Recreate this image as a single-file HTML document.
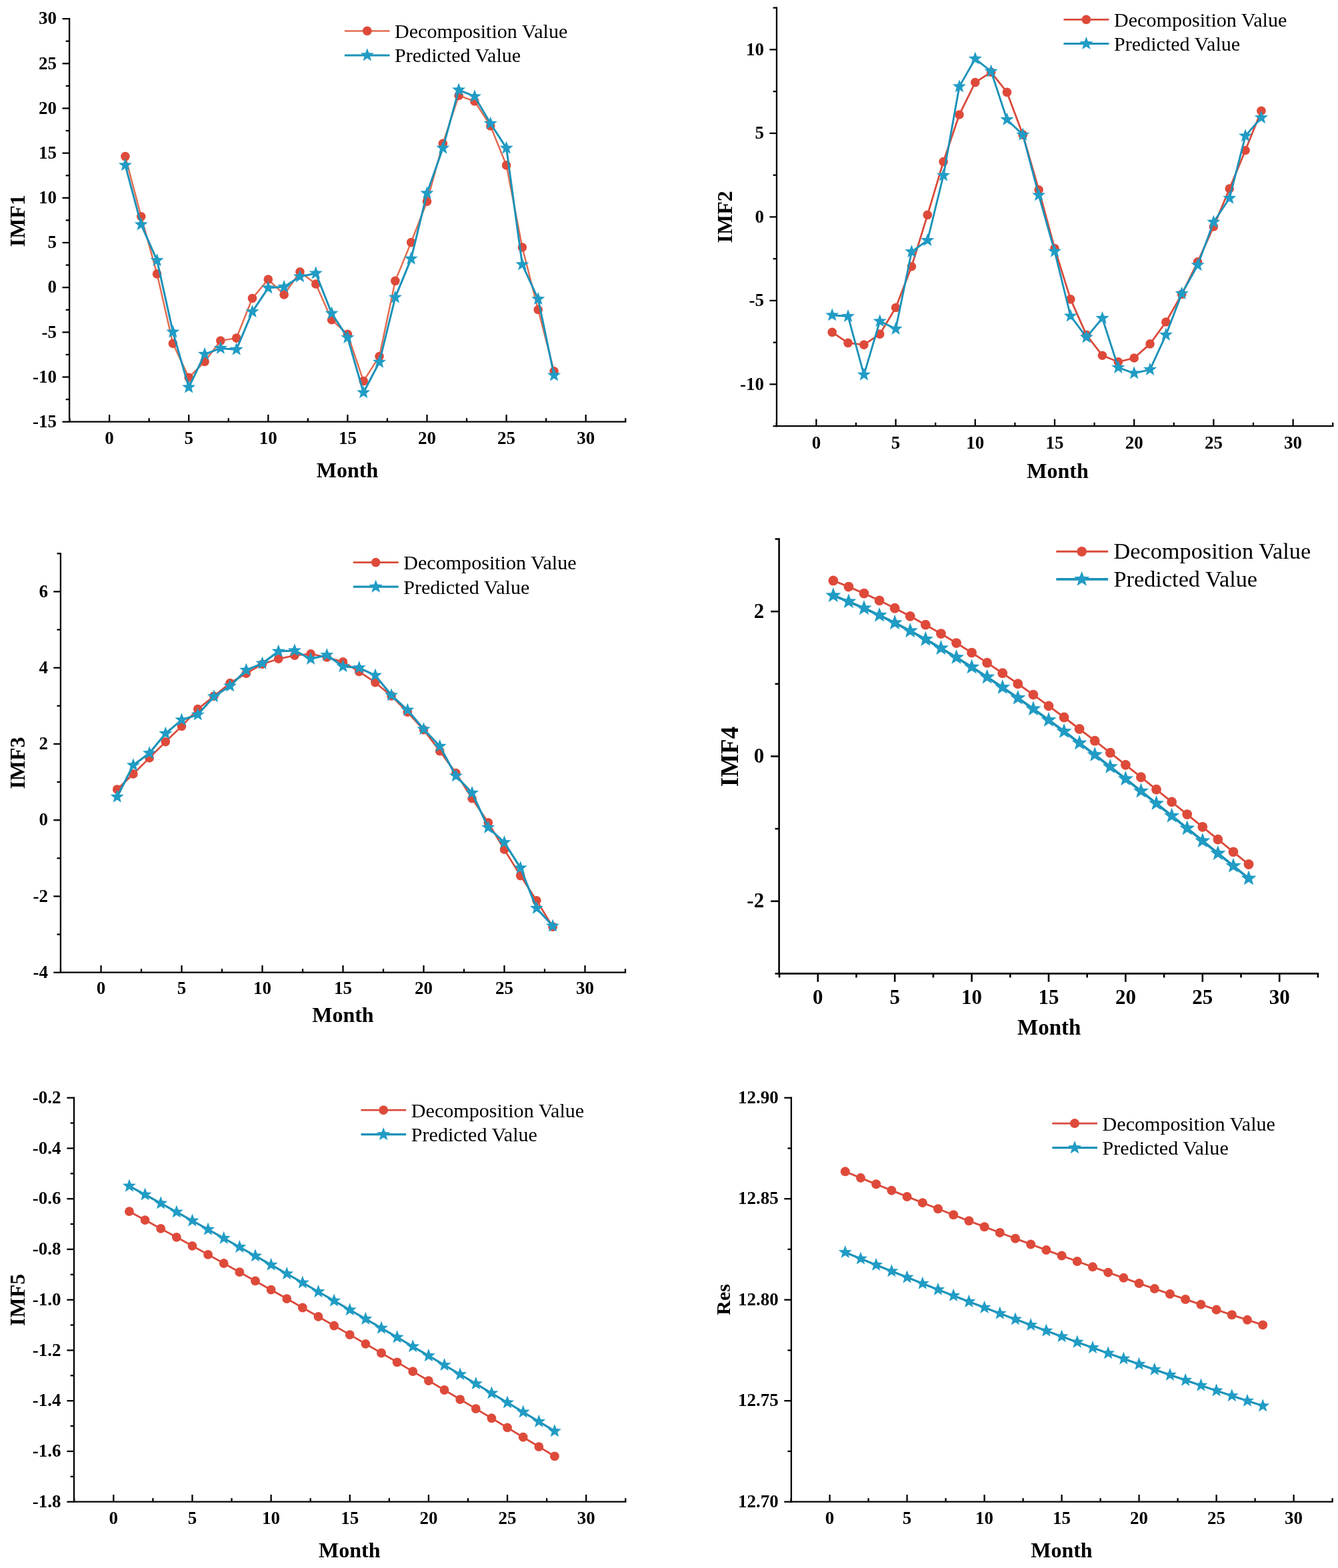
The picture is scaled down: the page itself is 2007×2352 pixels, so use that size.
<!DOCTYPE html>
<html><head><meta charset="utf-8"><title>IMF decomposition vs prediction</title>
<style>html,body{margin:0;padding:0;background:#fff;}svg{display:block;}</style></head>
<body><svg width="2007" height="2352" viewBox="0 0 2007 2352">
<rect width="100%" height="100%" fill="#fff"/>
<g stroke="#000" stroke-width="2.3" stroke-linecap="butt"><line x1="104.10" y1="26.98" x2="104.10" y2="633.75"/><line x1="102.95" y1="632.60" x2="939.40" y2="632.60"/><line x1="93.50" y1="632.70" x2="104.10" y2="632.70"/><line x1="93.50" y1="565.53" x2="104.10" y2="565.53"/><line x1="93.50" y1="498.35" x2="104.10" y2="498.35"/><line x1="93.50" y1="431.18" x2="104.10" y2="431.18"/><line x1="93.50" y1="364.00" x2="104.10" y2="364.00"/><line x1="93.50" y1="296.83" x2="104.10" y2="296.83"/><line x1="93.50" y1="229.65" x2="104.10" y2="229.65"/><line x1="93.50" y1="162.48" x2="104.10" y2="162.48"/><line x1="93.50" y1="95.30" x2="104.10" y2="95.30"/><line x1="93.50" y1="28.13" x2="104.10" y2="28.13"/><line x1="98.70" y1="599.11" x2="104.10" y2="599.11"/><line x1="98.70" y1="531.94" x2="104.10" y2="531.94"/><line x1="98.70" y1="464.76" x2="104.10" y2="464.76"/><line x1="98.70" y1="397.59" x2="104.10" y2="397.59"/><line x1="98.70" y1="330.41" x2="104.10" y2="330.41"/><line x1="98.70" y1="263.24" x2="104.10" y2="263.24"/><line x1="98.70" y1="196.06" x2="104.10" y2="196.06"/><line x1="98.70" y1="128.89" x2="104.10" y2="128.89"/><line x1="98.70" y1="61.71" x2="104.10" y2="61.71"/><line x1="164.10" y1="632.60" x2="164.10" y2="622.00"/><line x1="283.20" y1="632.60" x2="283.20" y2="622.00"/><line x1="402.30" y1="632.60" x2="402.30" y2="622.00"/><line x1="521.40" y1="632.60" x2="521.40" y2="622.00"/><line x1="640.50" y1="632.60" x2="640.50" y2="622.00"/><line x1="759.60" y1="632.60" x2="759.60" y2="622.00"/><line x1="878.70" y1="632.60" x2="878.70" y2="622.00"/><line x1="104.55" y1="632.60" x2="104.55" y2="627.20"/><line x1="223.65" y1="632.60" x2="223.65" y2="627.20"/><line x1="342.75" y1="632.60" x2="342.75" y2="627.20"/><line x1="461.85" y1="632.60" x2="461.85" y2="627.20"/><line x1="580.95" y1="632.60" x2="580.95" y2="627.20"/><line x1="700.05" y1="632.60" x2="700.05" y2="627.20"/><line x1="819.15" y1="632.60" x2="819.15" y2="627.20"/><line x1="938.25" y1="632.60" x2="938.25" y2="627.20"/></g>
<g font-family="'Liberation Serif', 'Times New Roman', serif" font-weight="bold" font-size="27" fill="#000"><text x="85.00" y="640.94" text-anchor="end">-15</text><text x="85.00" y="573.76" text-anchor="end">-10</text><text x="85.00" y="506.59" text-anchor="end">-5</text><text x="85.00" y="439.41" text-anchor="end">0</text><text x="85.00" y="372.24" text-anchor="end">5</text><text x="85.00" y="305.06" text-anchor="end">10</text><text x="85.00" y="237.89" text-anchor="end">15</text><text x="85.00" y="170.71" text-anchor="end">20</text><text x="85.00" y="103.54" text-anchor="end">25</text><text x="85.00" y="36.36" text-anchor="end">30</text><text x="164.10" y="665.50" text-anchor="middle">0</text><text x="283.20" y="665.50" text-anchor="middle">5</text><text x="402.30" y="665.50" text-anchor="middle">10</text><text x="521.40" y="665.50" text-anchor="middle">15</text><text x="640.50" y="665.50" text-anchor="middle">20</text><text x="759.60" y="665.50" text-anchor="middle">25</text><text x="878.70" y="665.50" text-anchor="middle">30</text></g>
<text x="521.00" y="715.70" text-anchor="middle" font-family="'Liberation Serif', 'Times New Roman', serif" font-weight="bold" font-size="32">Month</text>
<text transform="translate(37.10 331.20) rotate(-90)" x="0" y="0" text-anchor="middle" font-family="'Liberation Serif', 'Times New Roman', serif" font-weight="bold" font-size="32">IMF1</text>
<polyline fill="none" stroke="#e36c50" stroke-width="2.5" stroke-linejoin="round" points="187.92,234.62 211.74,324.77 235.56,410.89 259.38,515.28 283.20,566.20 307.02,542.55 330.84,511.11 354.66,507.08 378.48,447.43 402.30,419.08 426.12,441.92 449.94,407.80 473.76,426.07 497.58,479.81 521.40,501.31 545.22,571.57 569.04,534.62 592.86,421.37 616.68,363.60 640.50,302.20 664.32,215.41 688.14,143.40 711.96,152.00 735.78,188.94 759.60,247.92 783.42,370.99 807.24,464.49 831.06,556.79"/>
<circle cx="187.92" cy="234.62" r="6.80" fill="#de4a3a"/><circle cx="211.74" cy="324.77" r="6.80" fill="#de4a3a"/><circle cx="235.56" cy="410.89" r="6.80" fill="#de4a3a"/><circle cx="259.38" cy="515.28" r="6.80" fill="#de4a3a"/><circle cx="283.20" cy="566.20" r="6.80" fill="#de4a3a"/><circle cx="307.02" cy="542.55" r="6.80" fill="#de4a3a"/><circle cx="330.84" cy="511.11" r="6.80" fill="#de4a3a"/><circle cx="354.66" cy="507.08" r="6.80" fill="#de4a3a"/><circle cx="378.48" cy="447.43" r="6.80" fill="#de4a3a"/><circle cx="402.30" cy="419.08" r="6.80" fill="#de4a3a"/><circle cx="426.12" cy="441.92" r="6.80" fill="#de4a3a"/><circle cx="449.94" cy="407.80" r="6.80" fill="#de4a3a"/><circle cx="473.76" cy="426.07" r="6.80" fill="#de4a3a"/><circle cx="497.58" cy="479.81" r="6.80" fill="#de4a3a"/><circle cx="521.40" cy="501.31" r="6.80" fill="#de4a3a"/><circle cx="545.22" cy="571.57" r="6.80" fill="#de4a3a"/><circle cx="569.04" cy="534.62" r="6.80" fill="#de4a3a"/><circle cx="592.86" cy="421.37" r="6.80" fill="#de4a3a"/><circle cx="616.68" cy="363.60" r="6.80" fill="#de4a3a"/><circle cx="640.50" cy="302.20" r="6.80" fill="#de4a3a"/><circle cx="664.32" cy="215.41" r="6.80" fill="#de4a3a"/><circle cx="688.14" cy="143.40" r="6.80" fill="#de4a3a"/><circle cx="711.96" cy="152.00" r="6.80" fill="#de4a3a"/><circle cx="735.78" cy="188.94" r="6.80" fill="#de4a3a"/><circle cx="759.60" cy="247.92" r="6.80" fill="#de4a3a"/><circle cx="783.42" cy="370.99" r="6.80" fill="#de4a3a"/><circle cx="807.24" cy="464.49" r="6.80" fill="#de4a3a"/><circle cx="831.06" cy="556.79" r="6.80" fill="#de4a3a"/>
<polyline fill="none" stroke="#1c92b8" stroke-width="3.0" stroke-linejoin="round" points="187.92,247.79 211.74,336.86 235.56,390.60 259.38,497.95 283.20,580.98 307.02,531.40 330.84,522.40 354.66,524.28 378.48,467.58 402.30,431.85 426.12,430.37 449.94,414.92 473.76,409.95 497.58,470.14 521.40,506.41 545.22,588.77 569.04,543.22 592.86,446.09 616.68,388.18 640.50,289.84 664.32,222.13 688.14,134.80 711.96,144.74 735.78,185.31 759.60,222.13 783.42,396.78 807.24,448.51 831.06,562.97"/>
<polygon points="187.92,237.19 190.54,244.19 198.00,244.51 192.15,249.16 194.15,256.36 187.92,252.24 181.69,256.36 183.69,249.16 177.84,244.51 185.30,244.19" fill="#209cc5"/><polygon points="211.74,326.26 214.36,333.26 221.82,333.59 215.97,338.24 217.97,345.44 211.74,341.31 205.51,345.44 207.51,338.24 201.66,333.59 209.12,333.26" fill="#209cc5"/><polygon points="235.56,380.00 238.18,387.00 245.64,387.33 239.79,391.98 241.79,399.18 235.56,395.05 229.33,399.18 231.33,391.98 225.48,387.33 232.94,387.00" fill="#209cc5"/><polygon points="259.38,487.35 262.00,494.35 269.46,494.67 263.61,499.32 265.61,506.52 259.38,502.40 253.15,506.52 255.15,499.32 249.30,494.67 256.76,494.35" fill="#209cc5"/><polygon points="283.20,570.38 285.82,577.37 293.28,577.70 287.43,582.35 289.43,589.55 283.20,585.43 276.97,589.55 278.97,582.35 273.12,577.70 280.58,577.37" fill="#209cc5"/><polygon points="307.02,520.80 309.64,527.80 317.10,528.12 311.25,532.78 313.25,539.98 307.02,535.85 300.79,539.98 302.79,532.78 296.94,528.12 304.40,527.80" fill="#209cc5"/><polygon points="330.84,511.80 333.46,518.80 340.92,519.12 335.07,523.77 337.07,530.97 330.84,526.85 324.61,530.97 326.61,523.77 320.76,519.12 328.22,518.80" fill="#209cc5"/><polygon points="354.66,513.68 357.28,520.68 364.74,521.00 358.89,525.66 360.89,532.86 354.66,528.73 348.43,532.86 350.43,525.66 344.58,521.00 352.04,520.68" fill="#209cc5"/><polygon points="378.48,456.98 381.10,463.98 388.56,464.31 382.71,468.96 384.71,476.16 378.48,472.04 372.25,476.16 374.25,468.96 368.40,464.31 375.86,463.98" fill="#209cc5"/><polygon points="402.30,421.25 404.92,428.25 412.38,428.57 406.53,433.22 408.53,440.42 402.30,436.30 396.07,440.42 398.07,433.22 392.22,428.57 399.68,428.25" fill="#209cc5"/><polygon points="426.12,419.77 428.74,426.77 436.20,427.09 430.35,431.74 432.35,438.94 426.12,434.82 419.89,438.94 421.89,431.74 416.04,427.09 423.50,426.77" fill="#209cc5"/><polygon points="449.94,404.32 452.56,411.32 460.02,411.64 454.17,416.29 456.17,423.49 449.94,419.37 443.71,423.49 445.71,416.29 439.86,411.64 447.32,411.32" fill="#209cc5"/><polygon points="473.76,399.35 476.38,406.35 483.84,406.67 477.99,411.32 479.99,418.52 473.76,414.40 467.53,418.52 469.53,411.32 463.68,406.67 471.14,406.35" fill="#209cc5"/><polygon points="497.58,459.54 500.20,466.53 507.66,466.86 501.81,471.51 503.81,478.71 497.58,474.59 491.35,478.71 493.35,471.51 487.50,466.86 494.96,466.53" fill="#209cc5"/><polygon points="521.40,495.81 524.02,502.81 531.48,503.14 525.63,507.79 527.63,514.99 521.40,510.86 515.17,514.99 517.17,507.79 511.32,503.14 518.78,502.81" fill="#209cc5"/><polygon points="545.22,578.17 547.84,585.17 555.30,585.49 549.45,590.14 551.45,597.34 545.22,593.22 538.99,597.34 540.99,590.14 535.14,585.49 542.60,585.17" fill="#209cc5"/><polygon points="569.04,532.62 571.66,539.62 579.12,539.95 573.27,544.60 575.27,551.80 569.04,547.67 562.81,551.80 564.81,544.60 558.96,539.95 566.42,539.62" fill="#209cc5"/><polygon points="592.86,435.49 595.48,442.49 602.94,442.81 597.09,447.46 599.09,454.66 592.86,450.54 586.63,454.66 588.63,447.46 582.78,442.81 590.24,442.49" fill="#209cc5"/><polygon points="616.68,377.58 619.30,384.58 626.76,384.91 620.91,389.56 622.91,396.76 616.68,392.64 610.45,396.76 612.45,389.56 606.60,384.91 614.06,384.58" fill="#209cc5"/><polygon points="640.50,279.24 643.12,286.24 650.58,286.56 644.73,291.21 646.73,298.41 640.50,294.29 634.27,298.41 636.27,291.21 630.42,286.56 637.88,286.24" fill="#209cc5"/><polygon points="664.32,211.53 666.94,218.52 674.40,218.85 668.55,223.50 670.55,230.70 664.32,226.58 658.09,230.70 660.09,223.50 654.24,218.85 661.70,218.52" fill="#209cc5"/><polygon points="688.14,124.20 690.76,131.20 698.22,131.52 692.37,136.17 694.37,143.37 688.14,139.25 681.91,143.37 683.91,136.17 678.06,131.52 685.52,131.20" fill="#209cc5"/><polygon points="711.96,134.14 714.58,141.14 722.04,141.47 716.19,146.12 718.19,153.32 711.96,149.19 705.73,153.32 707.73,146.12 701.88,141.47 709.34,141.14" fill="#209cc5"/><polygon points="735.78,174.71 738.40,181.71 745.86,182.04 740.01,186.69 742.01,193.89 735.78,189.77 729.55,193.89 731.55,186.69 725.70,182.04 733.16,181.71" fill="#209cc5"/><polygon points="759.60,211.53 762.22,218.52 769.68,218.85 763.83,223.50 765.83,230.70 759.60,226.58 753.37,230.70 755.37,223.50 749.52,218.85 756.98,218.52" fill="#209cc5"/><polygon points="783.42,386.18 786.04,393.18 793.50,393.51 787.65,398.16 789.65,405.36 783.42,401.23 777.19,405.36 779.19,398.16 773.34,393.51 780.80,393.18" fill="#209cc5"/><polygon points="807.24,437.91 809.86,444.90 817.32,445.23 811.47,449.88 813.47,457.08 807.24,452.96 801.01,457.08 803.01,449.88 797.16,445.23 804.62,444.90" fill="#209cc5"/><polygon points="831.06,552.37 833.68,559.37 841.14,559.70 835.29,564.35 837.29,571.55 831.06,567.42 824.83,571.55 826.83,564.35 820.98,559.70 828.44,559.37" fill="#209cc5"/>
<line x1="516.90" y1="46.40" x2="584.60" y2="46.40" stroke="#e36c50" stroke-width="2.5"/><circle cx="550.80" cy="46.40" r="6.80" fill="#de4a3a"/><line x1="516.90" y1="82.90" x2="584.60" y2="82.90" stroke="#1c92b8" stroke-width="3.0"/><polygon points="550.80,72.30 553.42,79.30 560.88,79.62 555.03,84.28 557.03,91.48 550.80,87.35 544.57,91.48 546.57,84.28 540.72,79.62 548.18,79.30" fill="#209cc5"/><text x="592.00" y="56.80" font-family="'Liberation Serif', 'Times New Roman', serif" font-size="30.1">Decomposition Value</text><text x="592.00" y="93.30" font-family="'Liberation Serif', 'Times New Roman', serif" font-size="30.1">Predicted Value</text>
<g stroke="#000" stroke-width="2.3" stroke-linecap="butt"><line x1="1165.00" y1="10.50" x2="1165.00" y2="640.35"/><line x1="1163.85" y1="639.20" x2="2000.35" y2="639.20"/><line x1="1154.40" y1="576.40" x2="1165.00" y2="576.40"/><line x1="1154.40" y1="450.90" x2="1165.00" y2="450.90"/><line x1="1154.40" y1="325.40" x2="1165.00" y2="325.40"/><line x1="1154.40" y1="199.90" x2="1165.00" y2="199.90"/><line x1="1154.40" y1="74.40" x2="1165.00" y2="74.40"/><line x1="1159.60" y1="639.15" x2="1165.00" y2="639.15"/><line x1="1159.60" y1="513.65" x2="1165.00" y2="513.65"/><line x1="1159.60" y1="388.15" x2="1165.00" y2="388.15"/><line x1="1159.60" y1="262.65" x2="1165.00" y2="262.65"/><line x1="1159.60" y1="137.15" x2="1165.00" y2="137.15"/><line x1="1159.60" y1="11.65" x2="1165.00" y2="11.65"/><line x1="1224.40" y1="639.20" x2="1224.40" y2="628.60"/><line x1="1343.60" y1="639.20" x2="1343.60" y2="628.60"/><line x1="1462.80" y1="639.20" x2="1462.80" y2="628.60"/><line x1="1582.00" y1="639.20" x2="1582.00" y2="628.60"/><line x1="1701.20" y1="639.20" x2="1701.20" y2="628.60"/><line x1="1820.40" y1="639.20" x2="1820.40" y2="628.60"/><line x1="1939.60" y1="639.20" x2="1939.60" y2="628.60"/><line x1="1164.80" y1="639.20" x2="1164.80" y2="633.80"/><line x1="1284.00" y1="639.20" x2="1284.00" y2="633.80"/><line x1="1403.20" y1="639.20" x2="1403.20" y2="633.80"/><line x1="1522.40" y1="639.20" x2="1522.40" y2="633.80"/><line x1="1641.60" y1="639.20" x2="1641.60" y2="633.80"/><line x1="1760.80" y1="639.20" x2="1760.80" y2="633.80"/><line x1="1880.00" y1="639.20" x2="1880.00" y2="633.80"/><line x1="1999.20" y1="639.20" x2="1999.20" y2="633.80"/></g>
<g font-family="'Liberation Serif', 'Times New Roman', serif" font-weight="bold" font-size="27" fill="#000"><text x="1146.10" y="584.63" text-anchor="end">-10</text><text x="1146.10" y="459.13" text-anchor="end">-5</text><text x="1146.10" y="333.63" text-anchor="end">0</text><text x="1146.10" y="208.13" text-anchor="end">5</text><text x="1146.10" y="82.63" text-anchor="end">10</text><text x="1224.40" y="672.50" text-anchor="middle">0</text><text x="1343.60" y="672.50" text-anchor="middle">5</text><text x="1462.80" y="672.50" text-anchor="middle">10</text><text x="1582.00" y="672.50" text-anchor="middle">15</text><text x="1701.20" y="672.50" text-anchor="middle">20</text><text x="1820.40" y="672.50" text-anchor="middle">25</text><text x="1939.60" y="672.50" text-anchor="middle">30</text></g>
<text x="1586.50" y="717.00" text-anchor="middle" font-family="'Liberation Serif', 'Times New Roman', serif" font-weight="bold" font-size="32">Month</text>
<text transform="translate(1097.90 325.30) rotate(-90)" x="0" y="0" text-anchor="middle" font-family="'Liberation Serif', 'Times New Roman', serif" font-weight="bold" font-size="32">IMF2</text>
<polyline fill="none" stroke="#da4a3b" stroke-width="2.8" stroke-linejoin="round" points="1248.24,498.34 1272.08,514.40 1295.92,517.16 1319.76,501.10 1343.60,461.44 1367.44,399.70 1391.28,322.39 1415.12,242.57 1438.96,172.04 1462.80,123.60 1486.64,108.28 1510.48,138.40 1534.32,202.16 1558.16,284.74 1582.00,372.59 1605.84,448.89 1629.68,502.36 1653.52,533.23 1677.36,542.77 1701.20,536.99 1725.04,515.91 1748.88,483.03 1772.72,441.36 1796.56,392.92 1820.40,339.96 1844.24,282.98 1868.08,225.50 1891.92,166.27"/>
<circle cx="1248.24" cy="498.34" r="6.80" fill="#de4a3a"/><circle cx="1272.08" cy="514.40" r="6.80" fill="#de4a3a"/><circle cx="1295.92" cy="517.16" r="6.80" fill="#de4a3a"/><circle cx="1319.76" cy="501.10" r="6.80" fill="#de4a3a"/><circle cx="1343.60" cy="461.44" r="6.80" fill="#de4a3a"/><circle cx="1367.44" cy="399.70" r="6.80" fill="#de4a3a"/><circle cx="1391.28" cy="322.39" r="6.80" fill="#de4a3a"/><circle cx="1415.12" cy="242.57" r="6.80" fill="#de4a3a"/><circle cx="1438.96" cy="172.04" r="6.80" fill="#de4a3a"/><circle cx="1462.80" cy="123.60" r="6.80" fill="#de4a3a"/><circle cx="1486.64" cy="108.28" r="6.80" fill="#de4a3a"/><circle cx="1510.48" cy="138.40" r="6.80" fill="#de4a3a"/><circle cx="1534.32" cy="202.16" r="6.80" fill="#de4a3a"/><circle cx="1558.16" cy="284.74" r="6.80" fill="#de4a3a"/><circle cx="1582.00" cy="372.59" r="6.80" fill="#de4a3a"/><circle cx="1605.84" cy="448.89" r="6.80" fill="#de4a3a"/><circle cx="1629.68" cy="502.36" r="6.80" fill="#de4a3a"/><circle cx="1653.52" cy="533.23" r="6.80" fill="#de4a3a"/><circle cx="1677.36" cy="542.77" r="6.80" fill="#de4a3a"/><circle cx="1701.20" cy="536.99" r="6.80" fill="#de4a3a"/><circle cx="1725.04" cy="515.91" r="6.80" fill="#de4a3a"/><circle cx="1748.88" cy="483.03" r="6.80" fill="#de4a3a"/><circle cx="1772.72" cy="441.36" r="6.80" fill="#de4a3a"/><circle cx="1796.56" cy="392.92" r="6.80" fill="#de4a3a"/><circle cx="1820.40" cy="339.96" r="6.80" fill="#de4a3a"/><circle cx="1844.24" cy="282.98" r="6.80" fill="#de4a3a"/><circle cx="1868.08" cy="225.50" r="6.80" fill="#de4a3a"/><circle cx="1891.92" cy="166.27" r="6.80" fill="#de4a3a"/>
<polyline fill="none" stroke="#1c92b8" stroke-width="2.9" stroke-linejoin="round" points="1248.24,472.74 1272.08,474.49 1295.92,562.09 1319.76,481.77 1343.60,493.32 1367.44,377.61 1391.28,360.54 1415.12,263.15 1438.96,129.87 1462.80,88.20 1486.64,107.03 1510.48,179.32 1534.32,202.16 1558.16,292.77 1582.00,377.11 1605.84,473.99 1629.68,505.87 1653.52,477.25 1677.36,551.30 1701.20,559.83 1725.04,554.31 1748.88,502.36 1772.72,440.36 1796.56,397.69 1820.40,333.18 1844.24,297.29 1868.08,203.92 1891.92,176.56"/>
<polygon points="1248.24,462.14 1250.86,469.14 1258.32,469.46 1252.47,474.11 1254.47,481.31 1248.24,477.19 1242.01,481.31 1244.01,474.11 1238.16,469.46 1245.62,469.14" fill="#209cc5"/><polygon points="1272.08,463.89 1274.70,470.89 1282.16,471.22 1276.31,475.87 1278.31,483.07 1272.08,478.95 1265.85,483.07 1267.85,475.87 1262.00,471.22 1269.46,470.89" fill="#209cc5"/><polygon points="1295.92,551.49 1298.54,558.49 1306.00,558.82 1300.15,563.47 1302.15,570.67 1295.92,566.54 1289.69,570.67 1291.69,563.47 1285.84,558.82 1293.30,558.49" fill="#209cc5"/><polygon points="1319.76,471.17 1322.38,478.17 1329.84,478.50 1323.99,483.15 1325.99,490.35 1319.76,486.23 1313.53,490.35 1315.53,483.15 1309.68,478.50 1317.14,478.17" fill="#209cc5"/><polygon points="1343.60,482.72 1346.22,489.72 1353.68,490.04 1347.83,494.69 1349.83,501.89 1343.60,497.77 1337.37,501.89 1339.37,494.69 1333.52,490.04 1340.98,489.72" fill="#209cc5"/><polygon points="1367.44,367.01 1370.06,374.01 1377.52,374.33 1371.67,378.98 1373.67,386.18 1367.44,382.06 1361.21,386.18 1363.21,378.98 1357.36,374.33 1364.82,374.01" fill="#209cc5"/><polygon points="1391.28,349.94 1393.90,356.94 1401.36,357.26 1395.51,361.92 1397.51,369.12 1391.28,364.99 1385.05,369.12 1387.05,361.92 1381.20,357.26 1388.66,356.94" fill="#209cc5"/><polygon points="1415.12,252.55 1417.74,259.55 1425.20,259.88 1419.35,264.53 1421.35,271.73 1415.12,267.60 1408.89,271.73 1410.89,264.53 1405.04,259.88 1412.50,259.55" fill="#209cc5"/><polygon points="1438.96,119.27 1441.58,126.27 1449.04,126.60 1443.19,131.25 1445.19,138.45 1438.96,134.32 1432.73,138.45 1434.73,131.25 1428.88,126.60 1436.34,126.27" fill="#209cc5"/><polygon points="1462.80,77.60 1465.42,84.60 1472.88,84.93 1467.03,89.58 1469.03,96.78 1462.80,92.66 1456.57,96.78 1458.57,89.58 1452.72,84.93 1460.18,84.60" fill="#209cc5"/><polygon points="1486.64,96.43 1489.26,103.43 1496.72,103.75 1490.87,108.41 1492.87,115.61 1486.64,111.48 1480.41,115.61 1482.41,108.41 1476.56,103.75 1484.02,103.43" fill="#209cc5"/><polygon points="1510.48,168.72 1513.10,175.72 1520.56,176.04 1514.71,180.69 1516.71,187.89 1510.48,183.77 1504.25,187.89 1506.25,180.69 1500.40,176.04 1507.86,175.72" fill="#209cc5"/><polygon points="1534.32,191.56 1536.94,198.56 1544.40,198.88 1538.55,203.53 1540.55,210.73 1534.32,206.61 1528.09,210.73 1530.09,203.53 1524.24,198.88 1531.70,198.56" fill="#209cc5"/><polygon points="1558.16,282.17 1560.78,289.17 1568.24,289.49 1562.39,294.15 1564.39,301.35 1558.16,297.22 1551.93,301.35 1553.93,294.15 1548.08,289.49 1555.54,289.17" fill="#209cc5"/><polygon points="1582.00,366.51 1584.62,373.50 1592.08,373.83 1586.23,378.48 1588.23,385.68 1582.00,381.56 1575.77,385.68 1577.77,378.48 1571.92,373.83 1579.38,373.50" fill="#209cc5"/><polygon points="1605.84,463.39 1608.46,470.39 1615.92,470.72 1610.07,475.37 1612.07,482.57 1605.84,478.44 1599.61,482.57 1601.61,475.37 1595.76,470.72 1603.22,470.39" fill="#209cc5"/><polygon points="1629.68,495.27 1632.30,502.27 1639.76,502.59 1633.91,507.24 1635.91,514.44 1629.68,510.32 1623.45,514.44 1625.45,507.24 1619.60,502.59 1627.06,502.27" fill="#209cc5"/><polygon points="1653.52,466.65 1656.14,473.65 1663.60,473.98 1657.75,478.63 1659.75,485.83 1653.52,481.71 1647.29,485.83 1649.29,478.63 1643.44,473.98 1650.90,473.65" fill="#209cc5"/><polygon points="1677.36,540.70 1679.98,547.70 1687.44,548.02 1681.59,552.68 1683.59,559.88 1677.36,555.75 1671.13,559.88 1673.13,552.68 1667.28,548.02 1674.74,547.70" fill="#209cc5"/><polygon points="1701.20,549.23 1703.82,556.23 1711.28,556.56 1705.43,561.21 1707.43,568.41 1701.20,564.29 1694.97,568.41 1696.97,561.21 1691.12,556.56 1698.58,556.23" fill="#209cc5"/><polygon points="1725.04,543.71 1727.66,550.71 1735.12,551.04 1729.27,555.69 1731.27,562.89 1725.04,558.76 1718.81,562.89 1720.81,555.69 1714.96,551.04 1722.42,550.71" fill="#209cc5"/><polygon points="1748.88,491.75 1751.50,498.75 1758.96,499.08 1753.11,503.73 1755.11,510.93 1748.88,506.81 1742.65,510.93 1744.65,503.73 1738.80,499.08 1746.26,498.75" fill="#209cc5"/><polygon points="1772.72,429.76 1775.34,436.76 1782.80,437.08 1776.95,441.73 1778.95,448.93 1772.72,444.81 1766.49,448.93 1768.49,441.73 1762.64,437.08 1770.10,436.76" fill="#209cc5"/><polygon points="1796.56,387.09 1799.18,394.09 1806.64,394.41 1800.79,399.06 1802.79,406.26 1796.56,402.14 1790.33,406.26 1792.33,399.06 1786.48,394.41 1793.94,394.09" fill="#209cc5"/><polygon points="1820.40,322.58 1823.02,329.58 1830.48,329.91 1824.63,334.56 1826.63,341.76 1820.40,337.63 1814.17,341.76 1816.17,334.56 1810.32,329.91 1817.78,329.58" fill="#209cc5"/><polygon points="1844.24,286.69 1846.86,293.69 1854.32,294.01 1848.47,298.66 1850.47,305.86 1844.24,301.74 1838.01,305.86 1840.01,298.66 1834.16,294.01 1841.62,293.69" fill="#209cc5"/><polygon points="1868.08,193.32 1870.70,200.31 1878.16,200.64 1872.31,205.29 1874.31,212.49 1868.08,208.37 1861.85,212.49 1863.85,205.29 1858.00,200.64 1865.46,200.31" fill="#209cc5"/><polygon points="1891.92,165.96 1894.54,172.96 1902.00,173.28 1896.15,177.93 1898.15,185.13 1891.92,181.01 1885.69,185.13 1887.69,177.93 1881.84,173.28 1889.30,172.96" fill="#209cc5"/>
<line x1="1595.50" y1="29.40" x2="1663.40" y2="29.40" stroke="#da4a3b" stroke-width="2.8"/><circle cx="1629.40" cy="29.40" r="6.80" fill="#de4a3a"/><line x1="1595.50" y1="65.50" x2="1663.40" y2="65.50" stroke="#1c92b8" stroke-width="2.9"/><polygon points="1629.40,54.90 1632.02,61.90 1639.48,62.22 1633.63,66.88 1635.63,74.08 1629.40,69.95 1623.17,74.08 1625.17,66.88 1619.32,62.22 1626.78,61.90" fill="#209cc5"/><text x="1671.00" y="39.60" font-family="'Liberation Serif', 'Times New Roman', serif" font-size="30.1">Decomposition Value</text><text x="1671.00" y="75.70" font-family="'Liberation Serif', 'Times New Roman', serif" font-size="30.1">Predicted Value</text>
<g stroke="#000" stroke-width="2.3" stroke-linecap="butt"><line x1="90.90" y1="829.14" x2="90.90" y2="1459.75"/><line x1="89.75" y1="1458.60" x2="939.15" y2="1458.60"/><line x1="80.30" y1="1458.72" x2="90.90" y2="1458.72"/><line x1="80.30" y1="1344.46" x2="90.90" y2="1344.46"/><line x1="80.30" y1="1230.20" x2="90.90" y2="1230.20"/><line x1="80.30" y1="1115.94" x2="90.90" y2="1115.94"/><line x1="80.30" y1="1001.68" x2="90.90" y2="1001.68"/><line x1="80.30" y1="887.42" x2="90.90" y2="887.42"/><line x1="85.50" y1="1401.59" x2="90.90" y2="1401.59"/><line x1="85.50" y1="1287.33" x2="90.90" y2="1287.33"/><line x1="85.50" y1="1173.07" x2="90.90" y2="1173.07"/><line x1="85.50" y1="1058.81" x2="90.90" y2="1058.81"/><line x1="85.50" y1="944.55" x2="90.90" y2="944.55"/><line x1="85.50" y1="830.29" x2="90.90" y2="830.29"/><line x1="151.50" y1="1458.60" x2="151.50" y2="1448.00"/><line x1="272.50" y1="1458.60" x2="272.50" y2="1448.00"/><line x1="393.50" y1="1458.60" x2="393.50" y2="1448.00"/><line x1="514.50" y1="1458.60" x2="514.50" y2="1448.00"/><line x1="635.50" y1="1458.60" x2="635.50" y2="1448.00"/><line x1="756.50" y1="1458.60" x2="756.50" y2="1448.00"/><line x1="877.50" y1="1458.60" x2="877.50" y2="1448.00"/><line x1="91.00" y1="1458.60" x2="91.00" y2="1453.20"/><line x1="212.00" y1="1458.60" x2="212.00" y2="1453.20"/><line x1="333.00" y1="1458.60" x2="333.00" y2="1453.20"/><line x1="454.00" y1="1458.60" x2="454.00" y2="1453.20"/><line x1="575.00" y1="1458.60" x2="575.00" y2="1453.20"/><line x1="696.00" y1="1458.60" x2="696.00" y2="1453.20"/><line x1="817.00" y1="1458.60" x2="817.00" y2="1453.20"/><line x1="938.00" y1="1458.60" x2="938.00" y2="1453.20"/></g>
<g font-family="'Liberation Serif', 'Times New Roman', serif" font-weight="bold" font-size="27" fill="#000"><text x="72.00" y="1466.95" text-anchor="end">-4</text><text x="72.00" y="1352.69" text-anchor="end">-2</text><text x="72.00" y="1238.43" text-anchor="end">0</text><text x="72.00" y="1124.17" text-anchor="end">2</text><text x="72.00" y="1009.92" text-anchor="end">4</text><text x="72.00" y="895.66" text-anchor="end">6</text><text x="151.50" y="1491.30" text-anchor="middle">0</text><text x="272.50" y="1491.30" text-anchor="middle">5</text><text x="393.50" y="1491.30" text-anchor="middle">10</text><text x="514.50" y="1491.30" text-anchor="middle">15</text><text x="635.50" y="1491.30" text-anchor="middle">20</text><text x="756.50" y="1491.30" text-anchor="middle">25</text><text x="877.50" y="1491.30" text-anchor="middle">30</text></g>
<text x="514.40" y="1532.50" text-anchor="middle" font-family="'Liberation Serif', 'Times New Roman', serif" font-weight="bold" font-size="32">Month</text>
<text transform="translate(36.90 1144.50) rotate(-90)" x="0" y="0" text-anchor="middle" font-family="'Liberation Serif', 'Times New Roman', serif" font-weight="bold" font-size="32">IMF3</text>
<polyline fill="none" stroke="#da4a3b" stroke-width="2.7" stroke-linejoin="round" points="175.70,1183.98 199.90,1160.90 224.10,1136.91 248.30,1112.68 272.50,1089.37 296.70,1063.61 320.90,1044.18 345.10,1024.53 369.30,1010.19 393.50,996.20 417.70,988.31 441.90,983.28 466.10,980.77 490.30,986.03 514.50,992.82 538.70,1007.39 562.90,1023.68 587.10,1043.90 611.30,1068.29 635.50,1094.80 659.70,1126.68 683.90,1159.59 708.10,1197.81 732.30,1233.91 756.50,1274.30 780.70,1313.61 804.90,1350.69 829.10,1390.16"/>
<circle cx="175.70" cy="1183.98" r="6.80" fill="#de4a3a"/><circle cx="199.90" cy="1160.90" r="6.80" fill="#de4a3a"/><circle cx="224.10" cy="1136.91" r="6.80" fill="#de4a3a"/><circle cx="248.30" cy="1112.68" r="6.80" fill="#de4a3a"/><circle cx="272.50" cy="1089.37" r="6.80" fill="#de4a3a"/><circle cx="296.70" cy="1063.61" r="6.80" fill="#de4a3a"/><circle cx="320.90" cy="1044.18" r="6.80" fill="#de4a3a"/><circle cx="345.10" cy="1024.53" r="6.80" fill="#de4a3a"/><circle cx="369.30" cy="1010.19" r="6.80" fill="#de4a3a"/><circle cx="393.50" cy="996.20" r="6.80" fill="#de4a3a"/><circle cx="417.70" cy="988.31" r="6.80" fill="#de4a3a"/><circle cx="441.90" cy="983.28" r="6.80" fill="#de4a3a"/><circle cx="466.10" cy="980.77" r="6.80" fill="#de4a3a"/><circle cx="490.30" cy="986.03" r="6.80" fill="#de4a3a"/><circle cx="514.50" cy="992.82" r="6.80" fill="#de4a3a"/><circle cx="538.70" cy="1007.39" r="6.80" fill="#de4a3a"/><circle cx="562.90" cy="1023.68" r="6.80" fill="#de4a3a"/><circle cx="587.10" cy="1043.90" r="6.80" fill="#de4a3a"/><circle cx="611.30" cy="1068.29" r="6.80" fill="#de4a3a"/><circle cx="635.50" cy="1094.80" r="6.80" fill="#de4a3a"/><circle cx="659.70" cy="1126.68" r="6.80" fill="#de4a3a"/><circle cx="683.90" cy="1159.59" r="6.80" fill="#de4a3a"/><circle cx="708.10" cy="1197.81" r="6.80" fill="#de4a3a"/><circle cx="732.30" cy="1233.91" r="6.80" fill="#de4a3a"/><circle cx="756.50" cy="1274.30" r="6.80" fill="#de4a3a"/><circle cx="780.70" cy="1313.61" r="6.80" fill="#de4a3a"/><circle cx="804.90" cy="1350.69" r="6.80" fill="#de4a3a"/><circle cx="829.10" cy="1390.16" r="6.80" fill="#de4a3a"/>
<polyline fill="none" stroke="#1c92b8" stroke-width="3.2" stroke-linejoin="round" points="175.70,1195.29 199.90,1147.82 224.10,1129.71 248.30,1100.29 272.50,1079.89 296.70,1072.01 320.90,1044.81 345.10,1028.99 369.30,1005.22 393.50,995.11 417.70,977.00 441.90,975.80 466.10,988.31 490.30,982.60 514.50,999.62 538.70,1001.68 562.90,1013.11 587.10,1042.81 611.30,1065.09 635.50,1093.77 659.70,1119.31 683.90,1163.93 708.10,1189.29 732.30,1241.40 756.50,1263.68 780.70,1301.90 804.90,1362.40 829.10,1389.02"/>
<polygon points="175.70,1184.69 178.32,1191.69 185.78,1192.02 179.93,1196.67 181.93,1203.87 175.70,1199.75 169.47,1203.87 171.47,1196.67 165.62,1192.02 173.08,1191.69" fill="#209cc5"/><polygon points="199.90,1137.22 202.52,1144.22 209.98,1144.54 204.13,1149.19 206.13,1156.39 199.90,1152.27 193.67,1156.39 195.67,1149.19 189.82,1144.54 197.28,1144.22" fill="#209cc5"/><polygon points="224.10,1119.11 226.72,1126.11 234.18,1126.43 228.33,1131.08 230.33,1138.28 224.10,1134.16 217.87,1138.28 219.87,1131.08 214.02,1126.43 221.48,1126.11" fill="#209cc5"/><polygon points="248.30,1089.69 250.92,1096.68 258.38,1097.01 252.53,1101.66 254.53,1108.86 248.30,1104.74 242.07,1108.86 244.07,1101.66 238.22,1097.01 245.68,1096.68" fill="#209cc5"/><polygon points="272.50,1069.29 275.12,1076.29 282.58,1076.62 276.73,1081.27 278.73,1088.47 272.50,1084.34 266.27,1088.47 268.27,1081.27 262.42,1076.62 269.88,1076.29" fill="#209cc5"/><polygon points="296.70,1061.41 299.32,1068.41 306.78,1068.73 300.93,1073.38 302.93,1080.58 296.70,1076.46 290.47,1080.58 292.47,1073.38 286.62,1068.73 294.08,1068.41" fill="#209cc5"/><polygon points="320.90,1034.21 323.52,1041.21 330.98,1041.54 325.13,1046.19 327.13,1053.39 320.90,1049.27 314.67,1053.39 316.67,1046.19 310.82,1041.54 318.28,1041.21" fill="#209cc5"/><polygon points="345.10,1018.39 347.72,1025.39 355.18,1025.71 349.33,1030.36 351.33,1037.56 345.10,1033.44 338.87,1037.56 340.87,1030.36 335.02,1025.71 342.48,1025.39" fill="#209cc5"/><polygon points="369.30,994.62 371.92,1001.62 379.38,1001.95 373.53,1006.60 375.53,1013.80 369.30,1009.67 363.07,1013.80 365.07,1006.60 359.22,1001.95 366.68,1001.62" fill="#209cc5"/><polygon points="393.50,984.51 396.12,991.51 403.58,991.83 397.73,996.49 399.73,1003.69 393.50,999.56 387.27,1003.69 389.27,996.49 383.42,991.83 390.88,991.51" fill="#209cc5"/><polygon points="417.70,966.40 420.32,973.40 427.78,973.72 421.93,978.38 423.93,985.58 417.70,981.45 411.47,985.58 413.47,978.38 407.62,973.72 415.08,973.40" fill="#209cc5"/><polygon points="441.90,965.20 444.52,972.20 451.98,972.52 446.13,977.18 448.13,984.38 441.90,980.25 435.67,984.38 437.67,977.18 431.82,972.52 439.28,972.20" fill="#209cc5"/><polygon points="466.10,977.71 468.72,984.71 476.18,985.04 470.33,989.69 472.33,996.89 466.10,992.76 459.87,996.89 461.87,989.69 456.02,985.04 463.48,984.71" fill="#209cc5"/><polygon points="490.30,972.00 492.92,979.00 500.38,979.32 494.53,983.97 496.53,991.17 490.30,987.05 484.07,991.17 486.07,983.97 480.22,979.32 487.68,979.00" fill="#209cc5"/><polygon points="514.50,989.02 517.12,996.02 524.58,996.35 518.73,1001.00 520.73,1008.20 514.50,1004.08 508.27,1008.20 510.27,1001.00 504.42,996.35 511.88,996.02" fill="#209cc5"/><polygon points="538.70,991.08 541.32,998.08 548.78,998.40 542.93,1003.06 544.93,1010.26 538.70,1006.13 532.47,1010.26 534.47,1003.06 528.62,998.40 536.08,998.08" fill="#209cc5"/><polygon points="562.90,1002.51 565.52,1009.50 572.98,1009.83 567.13,1014.48 569.13,1021.68 562.90,1017.56 556.67,1021.68 558.67,1014.48 552.82,1009.83 560.28,1009.50" fill="#209cc5"/><polygon points="587.10,1032.21 589.72,1039.21 597.18,1039.54 591.33,1044.19 593.33,1051.39 587.10,1047.27 580.87,1051.39 582.87,1044.19 577.02,1039.54 584.48,1039.21" fill="#209cc5"/><polygon points="611.30,1054.49 613.92,1061.49 621.38,1061.82 615.53,1066.47 617.53,1073.67 611.30,1069.55 605.07,1073.67 607.07,1066.47 601.22,1061.82 608.68,1061.49" fill="#209cc5"/><polygon points="635.50,1083.17 638.12,1090.17 645.58,1090.50 639.73,1095.15 641.73,1102.35 635.50,1098.23 629.27,1102.35 631.27,1095.15 625.42,1090.50 632.88,1090.17" fill="#209cc5"/><polygon points="659.70,1108.71 662.32,1115.71 669.78,1116.04 663.93,1120.69 665.93,1127.89 659.70,1123.76 653.47,1127.89 655.47,1120.69 649.62,1116.04 657.08,1115.71" fill="#209cc5"/><polygon points="683.90,1153.33 686.52,1160.33 693.98,1160.65 688.13,1165.30 690.13,1172.50 683.90,1168.38 677.67,1172.50 679.67,1165.30 673.82,1160.65 681.28,1160.33" fill="#209cc5"/><polygon points="708.10,1178.69 710.72,1185.69 718.18,1186.02 712.33,1190.67 714.33,1197.87 708.10,1193.75 701.87,1197.87 703.87,1190.67 698.02,1186.02 705.48,1185.69" fill="#209cc5"/><polygon points="732.30,1230.80 734.92,1237.80 742.38,1238.12 736.53,1242.77 738.53,1249.97 732.30,1245.85 726.07,1249.97 728.07,1242.77 722.22,1238.12 729.68,1237.80" fill="#209cc5"/><polygon points="756.50,1253.08 759.12,1260.08 766.58,1260.40 760.73,1265.05 762.73,1272.25 756.50,1268.13 750.27,1272.25 752.27,1265.05 746.42,1260.40 753.88,1260.08" fill="#209cc5"/><polygon points="780.70,1291.30 783.32,1298.30 790.78,1298.62 784.93,1303.27 786.93,1310.47 780.70,1306.35 774.47,1310.47 776.47,1303.27 770.62,1298.62 778.08,1298.30" fill="#209cc5"/><polygon points="804.90,1351.80 807.52,1358.80 814.98,1359.12 809.13,1363.77 811.13,1370.97 804.90,1366.85 798.67,1370.97 800.67,1363.77 794.82,1359.12 802.28,1358.80" fill="#209cc5"/><polygon points="829.10,1378.42 831.72,1385.42 839.18,1385.75 833.33,1390.40 835.33,1397.60 829.10,1393.47 822.87,1397.60 824.87,1390.40 819.02,1385.75 826.48,1385.42" fill="#209cc5"/>
<line x1="529.80" y1="843.60" x2="597.70" y2="843.60" stroke="#da4a3b" stroke-width="2.7"/><circle cx="563.70" cy="843.60" r="6.80" fill="#de4a3a"/><line x1="529.80" y1="880.20" x2="597.70" y2="880.20" stroke="#1c92b8" stroke-width="3.2"/><polygon points="563.70,869.60 566.32,876.60 573.78,876.92 567.93,881.58 569.93,888.78 563.70,884.65 557.47,888.78 559.47,881.58 553.62,876.92 561.08,876.60" fill="#209cc5"/><text x="605.20" y="854.00" font-family="'Liberation Serif', 'Times New Roman', serif" font-size="30.1">Decomposition Value</text><text x="605.20" y="890.60" font-family="'Liberation Serif', 'Times New Roman', serif" font-size="30.1">Predicted Value</text>
<g stroke="#000" stroke-width="2.6" stroke-linecap="butt"><line x1="1168.60" y1="807.25" x2="1168.60" y2="1461.70"/><line x1="1167.30" y1="1460.40" x2="1978.20" y2="1460.40"/><line x1="1156.20" y1="1351.80" x2="1168.60" y2="1351.80"/><line x1="1156.20" y1="1134.50" x2="1168.60" y2="1134.50"/><line x1="1156.20" y1="917.20" x2="1168.60" y2="917.20"/><line x1="1162.60" y1="1460.45" x2="1168.60" y2="1460.45"/><line x1="1162.60" y1="1243.15" x2="1168.60" y2="1243.15"/><line x1="1162.60" y1="1025.85" x2="1168.60" y2="1025.85"/><line x1="1162.60" y1="808.55" x2="1168.60" y2="808.55"/><line x1="1226.80" y1="1460.40" x2="1226.80" y2="1472.80"/><line x1="1342.20" y1="1460.40" x2="1342.20" y2="1472.80"/><line x1="1457.60" y1="1460.40" x2="1457.60" y2="1472.80"/><line x1="1573.00" y1="1460.40" x2="1573.00" y2="1472.80"/><line x1="1688.40" y1="1460.40" x2="1688.40" y2="1472.80"/><line x1="1803.80" y1="1460.40" x2="1803.80" y2="1472.80"/><line x1="1919.20" y1="1460.40" x2="1919.20" y2="1472.80"/><line x1="1169.10" y1="1460.40" x2="1169.10" y2="1466.40"/><line x1="1284.50" y1="1460.40" x2="1284.50" y2="1466.40"/><line x1="1399.90" y1="1460.40" x2="1399.90" y2="1466.40"/><line x1="1515.30" y1="1460.40" x2="1515.30" y2="1466.40"/><line x1="1630.70" y1="1460.40" x2="1630.70" y2="1466.40"/><line x1="1746.10" y1="1460.40" x2="1746.10" y2="1466.40"/><line x1="1861.50" y1="1460.40" x2="1861.50" y2="1466.40"/><line x1="1976.90" y1="1460.40" x2="1976.90" y2="1466.40"/></g>
<g font-family="'Liberation Serif', 'Times New Roman', serif" font-weight="bold" font-size="31" fill="#000"><text x="1146.20" y="1361.25" text-anchor="end">-2</text><text x="1146.20" y="1143.95" text-anchor="end">0</text><text x="1146.20" y="926.66" text-anchor="end">2</text><text x="1226.80" y="1505.90" text-anchor="middle">0</text><text x="1342.20" y="1505.90" text-anchor="middle">5</text><text x="1457.60" y="1505.90" text-anchor="middle">10</text><text x="1573.00" y="1505.90" text-anchor="middle">15</text><text x="1688.40" y="1505.90" text-anchor="middle">20</text><text x="1803.80" y="1505.90" text-anchor="middle">25</text><text x="1919.20" y="1505.90" text-anchor="middle">30</text></g>
<text x="1573.70" y="1551.80" text-anchor="middle" font-family="'Liberation Serif', 'Times New Roman', serif" font-weight="bold" font-size="33">Month</text>
<text transform="translate(1106.60 1135.00) rotate(-90)" x="0" y="0" text-anchor="middle" font-family="'Liberation Serif', 'Times New Roman', serif" font-weight="bold" font-size="37">IMF4</text>
<polyline fill="none" stroke="#da4a3b" stroke-width="2.9" stroke-linejoin="round" points="1249.88,870.91 1272.96,880.10 1296.04,890.07 1319.12,900.80 1342.20,912.25 1365.28,924.38 1388.36,937.17 1411.44,950.57 1434.52,964.56 1457.60,979.10 1480.68,994.16 1503.76,1009.70 1526.84,1025.69 1549.92,1042.10 1573.00,1058.88 1596.08,1076.02 1619.16,1093.47 1642.24,1111.20 1665.32,1129.18 1688.40,1147.37 1711.48,1165.74 1734.56,1184.26 1757.64,1202.89 1780.72,1221.59 1803.80,1240.34 1826.88,1259.11 1849.96,1277.84 1873.04,1296.52"/>
<circle cx="1249.88" cy="870.91" r="7.40" fill="#de4a3a"/><circle cx="1272.96" cy="880.10" r="7.40" fill="#de4a3a"/><circle cx="1296.04" cy="890.07" r="7.40" fill="#de4a3a"/><circle cx="1319.12" cy="900.80" r="7.40" fill="#de4a3a"/><circle cx="1342.20" cy="912.25" r="7.40" fill="#de4a3a"/><circle cx="1365.28" cy="924.38" r="7.40" fill="#de4a3a"/><circle cx="1388.36" cy="937.17" r="7.40" fill="#de4a3a"/><circle cx="1411.44" cy="950.57" r="7.40" fill="#de4a3a"/><circle cx="1434.52" cy="964.56" r="7.40" fill="#de4a3a"/><circle cx="1457.60" cy="979.10" r="7.40" fill="#de4a3a"/><circle cx="1480.68" cy="994.16" r="7.40" fill="#de4a3a"/><circle cx="1503.76" cy="1009.70" r="7.40" fill="#de4a3a"/><circle cx="1526.84" cy="1025.69" r="7.40" fill="#de4a3a"/><circle cx="1549.92" cy="1042.10" r="7.40" fill="#de4a3a"/><circle cx="1573.00" cy="1058.88" r="7.40" fill="#de4a3a"/><circle cx="1596.08" cy="1076.02" r="7.40" fill="#de4a3a"/><circle cx="1619.16" cy="1093.47" r="7.40" fill="#de4a3a"/><circle cx="1642.24" cy="1111.20" r="7.40" fill="#de4a3a"/><circle cx="1665.32" cy="1129.18" r="7.40" fill="#de4a3a"/><circle cx="1688.40" cy="1147.37" r="7.40" fill="#de4a3a"/><circle cx="1711.48" cy="1165.74" r="7.40" fill="#de4a3a"/><circle cx="1734.56" cy="1184.26" r="7.40" fill="#de4a3a"/><circle cx="1757.64" cy="1202.89" r="7.40" fill="#de4a3a"/><circle cx="1780.72" cy="1221.59" r="7.40" fill="#de4a3a"/><circle cx="1803.80" cy="1240.34" r="7.40" fill="#de4a3a"/><circle cx="1826.88" cy="1259.11" r="7.40" fill="#de4a3a"/><circle cx="1849.96" cy="1277.84" r="7.40" fill="#de4a3a"/><circle cx="1873.04" cy="1296.52" r="7.40" fill="#de4a3a"/>
<polyline fill="none" stroke="#1c92b8" stroke-width="3.8" stroke-linejoin="round" points="1249.88,893.32 1272.96,902.42 1296.04,912.30 1319.12,922.93 1342.20,934.28 1365.28,946.32 1388.36,959.01 1411.44,972.32 1434.52,986.22 1457.60,1000.67 1480.68,1015.64 1503.76,1031.09 1526.84,1047.00 1549.92,1063.34 1573.00,1080.06 1596.08,1097.13 1619.16,1114.53 1642.24,1132.21 1665.32,1150.15 1688.40,1168.31 1711.48,1186.66 1734.56,1205.17 1757.64,1223.80 1780.72,1242.52 1803.80,1261.29 1826.88,1280.09 1849.96,1298.89 1873.04,1317.63"/>
<polygon points="1249.88,881.12 1252.89,889.18 1261.48,889.55 1254.75,894.91 1257.05,903.19 1249.88,898.45 1242.71,903.19 1245.01,894.91 1238.28,889.55 1246.87,889.18" fill="#209cc5"/><polygon points="1272.96,890.22 1275.97,898.27 1284.56,898.65 1277.83,904.00 1280.13,912.29 1272.96,907.54 1265.79,912.29 1268.09,904.00 1261.36,898.65 1269.95,898.27" fill="#209cc5"/><polygon points="1296.04,900.10 1299.05,908.15 1307.64,908.53 1300.91,913.88 1303.21,922.17 1296.04,917.42 1288.87,922.17 1291.17,913.88 1284.44,908.53 1293.03,908.15" fill="#209cc5"/><polygon points="1319.12,910.73 1322.13,918.79 1330.72,919.16 1323.99,924.52 1326.29,932.80 1319.12,928.06 1311.95,932.80 1314.25,924.52 1307.52,919.16 1316.11,918.79" fill="#209cc5"/><polygon points="1342.20,922.08 1345.21,930.14 1353.80,930.51 1347.07,935.87 1349.37,944.15 1342.20,939.41 1335.03,944.15 1337.33,935.87 1330.60,930.51 1339.19,930.14" fill="#209cc5"/><polygon points="1365.28,934.12 1368.29,942.18 1376.88,942.55 1370.15,947.90 1372.45,956.19 1365.28,951.45 1358.11,956.19 1360.41,947.90 1353.68,942.55 1362.27,942.18" fill="#209cc5"/><polygon points="1388.36,946.81 1391.37,954.87 1399.96,955.24 1393.23,960.59 1395.53,968.88 1388.36,964.14 1381.19,968.88 1383.49,960.59 1376.76,955.24 1385.35,954.87" fill="#209cc5"/><polygon points="1411.44,960.12 1414.45,968.18 1423.04,968.55 1416.31,973.90 1418.61,982.19 1411.44,977.44 1404.27,982.19 1406.57,973.90 1399.84,968.55 1408.43,968.18" fill="#209cc5"/><polygon points="1434.52,974.02 1437.53,982.07 1446.12,982.45 1439.39,987.80 1441.69,996.09 1434.52,991.34 1427.35,996.09 1429.65,987.80 1422.92,982.45 1431.51,982.07" fill="#209cc5"/><polygon points="1457.60,988.47 1460.61,996.52 1469.20,996.90 1462.47,1002.25 1464.77,1010.54 1457.60,1005.79 1450.43,1010.54 1452.73,1002.25 1446.00,996.90 1454.59,996.52" fill="#209cc5"/><polygon points="1480.68,1003.44 1483.69,1011.49 1492.28,1011.87 1485.55,1017.22 1487.85,1025.51 1480.68,1020.76 1473.51,1025.51 1475.81,1017.22 1469.08,1011.87 1477.67,1011.49" fill="#209cc5"/><polygon points="1503.76,1018.89 1506.77,1026.95 1515.36,1027.32 1508.63,1032.68 1510.93,1040.96 1503.76,1036.22 1496.59,1040.96 1498.89,1032.68 1492.16,1027.32 1500.75,1026.95" fill="#209cc5"/><polygon points="1526.84,1034.80 1529.85,1042.86 1538.44,1043.23 1531.71,1048.59 1534.01,1056.87 1526.84,1052.13 1519.67,1056.87 1521.97,1048.59 1515.24,1043.23 1523.83,1042.86" fill="#209cc5"/><polygon points="1549.92,1051.14 1552.93,1059.19 1561.52,1059.57 1554.79,1064.92 1557.09,1073.21 1549.92,1068.46 1542.75,1073.21 1545.05,1064.92 1538.32,1059.57 1546.91,1059.19" fill="#209cc5"/><polygon points="1573.00,1067.86 1576.01,1075.91 1584.60,1076.29 1577.87,1081.64 1580.17,1089.93 1573.00,1085.18 1565.83,1089.93 1568.13,1081.64 1561.40,1076.29 1569.99,1075.91" fill="#209cc5"/><polygon points="1596.08,1084.93 1599.09,1092.98 1607.68,1093.36 1600.95,1098.71 1603.25,1107.00 1596.08,1102.25 1588.91,1107.00 1591.21,1098.71 1584.48,1093.36 1593.07,1092.98" fill="#209cc5"/><polygon points="1619.16,1102.33 1622.17,1110.38 1630.76,1110.76 1624.03,1116.11 1626.33,1124.40 1619.16,1119.65 1611.99,1124.40 1614.29,1116.11 1607.56,1110.76 1616.15,1110.38" fill="#209cc5"/><polygon points="1642.24,1120.01 1645.25,1128.06 1653.84,1128.44 1647.11,1133.79 1649.41,1142.08 1642.24,1137.33 1635.07,1142.08 1637.37,1133.79 1630.64,1128.44 1639.23,1128.06" fill="#209cc5"/><polygon points="1665.32,1137.95 1668.33,1146.00 1676.92,1146.38 1670.19,1151.73 1672.49,1160.02 1665.32,1155.27 1658.15,1160.02 1660.45,1151.73 1653.72,1146.38 1662.31,1146.00" fill="#209cc5"/><polygon points="1688.40,1156.11 1691.41,1164.17 1700.00,1164.54 1693.27,1169.89 1695.57,1178.18 1688.40,1173.43 1681.23,1178.18 1683.53,1169.89 1676.80,1164.54 1685.39,1164.17" fill="#209cc5"/><polygon points="1711.48,1174.46 1714.49,1182.52 1723.08,1182.89 1716.35,1188.24 1718.65,1196.53 1711.48,1191.79 1704.31,1196.53 1706.61,1188.24 1699.88,1182.89 1708.47,1182.52" fill="#209cc5"/><polygon points="1734.56,1192.97 1737.57,1201.02 1746.16,1201.40 1739.43,1206.75 1741.73,1215.04 1734.56,1210.29 1727.39,1215.04 1729.69,1206.75 1722.96,1201.40 1731.55,1201.02" fill="#209cc5"/><polygon points="1757.64,1211.60 1760.65,1219.65 1769.24,1220.03 1762.51,1225.38 1764.81,1233.67 1757.64,1228.92 1750.47,1233.67 1752.77,1225.38 1746.04,1220.03 1754.63,1219.65" fill="#209cc5"/><polygon points="1780.72,1230.32 1783.73,1238.37 1792.32,1238.75 1785.59,1244.10 1787.89,1252.39 1780.72,1247.64 1773.55,1252.39 1775.85,1244.10 1769.12,1238.75 1777.71,1238.37" fill="#209cc5"/><polygon points="1803.80,1249.09 1806.81,1257.15 1815.40,1257.52 1808.67,1262.88 1810.97,1271.16 1803.80,1266.42 1796.63,1271.16 1798.93,1262.88 1792.20,1257.52 1800.79,1257.15" fill="#209cc5"/><polygon points="1826.88,1267.89 1829.89,1275.95 1838.48,1276.32 1831.75,1281.68 1834.05,1289.96 1826.88,1285.22 1819.71,1289.96 1822.01,1281.68 1815.28,1276.32 1823.87,1275.95" fill="#209cc5"/><polygon points="1849.96,1286.69 1852.97,1294.74 1861.56,1295.12 1854.83,1300.47 1857.13,1308.76 1849.96,1304.01 1842.79,1308.76 1845.09,1300.47 1838.36,1295.12 1846.95,1294.74" fill="#209cc5"/><polygon points="1873.04,1305.43 1876.05,1313.49 1884.64,1313.86 1877.91,1319.22 1880.21,1327.50 1873.04,1322.76 1865.87,1327.50 1868.17,1319.22 1861.44,1313.86 1870.03,1313.49" fill="#209cc5"/>
<line x1="1584.30" y1="827.30" x2="1662.20" y2="827.30" stroke="#da4a3b" stroke-width="2.9"/><circle cx="1622.70" cy="827.30" r="7.40" fill="#de4a3a"/><line x1="1584.30" y1="868.90" x2="1662.20" y2="868.90" stroke="#1c92b8" stroke-width="3.8"/><polygon points="1622.70,856.70 1625.71,864.75 1634.30,865.13 1627.57,870.48 1629.87,878.77 1622.70,874.02 1615.53,878.77 1617.83,870.48 1611.10,865.13 1619.69,864.75" fill="#209cc5"/><text x="1670.50" y="838.30" font-family="'Liberation Serif', 'Times New Roman', serif" font-size="34.3">Decomposition Value</text><text x="1670.50" y="879.90" font-family="'Liberation Serif', 'Times New Roman', serif" font-size="34.3">Predicted Value</text>
<g stroke="#000" stroke-width="2.3" stroke-linecap="butt"><line x1="111.00" y1="1645.55" x2="111.00" y2="2253.75"/><line x1="109.85" y1="2252.60" x2="939.43" y2="2252.60"/><line x1="100.40" y1="2252.70" x2="111.00" y2="2252.70"/><line x1="100.40" y1="2176.95" x2="111.00" y2="2176.95"/><line x1="100.40" y1="2101.20" x2="111.00" y2="2101.20"/><line x1="100.40" y1="2025.45" x2="111.00" y2="2025.45"/><line x1="100.40" y1="1949.70" x2="111.00" y2="1949.70"/><line x1="100.40" y1="1873.95" x2="111.00" y2="1873.95"/><line x1="100.40" y1="1798.20" x2="111.00" y2="1798.20"/><line x1="100.40" y1="1722.45" x2="111.00" y2="1722.45"/><line x1="100.40" y1="1646.70" x2="111.00" y2="1646.70"/><line x1="105.60" y1="2214.82" x2="111.00" y2="2214.82"/><line x1="105.60" y1="2139.07" x2="111.00" y2="2139.07"/><line x1="105.60" y1="2063.32" x2="111.00" y2="2063.32"/><line x1="105.60" y1="1987.58" x2="111.00" y2="1987.58"/><line x1="105.60" y1="1911.83" x2="111.00" y2="1911.83"/><line x1="105.60" y1="1836.08" x2="111.00" y2="1836.08"/><line x1="105.60" y1="1760.33" x2="111.00" y2="1760.33"/><line x1="105.60" y1="1684.58" x2="111.00" y2="1684.58"/><line x1="170.30" y1="2252.60" x2="170.30" y2="2242.00"/><line x1="288.45" y1="2252.60" x2="288.45" y2="2242.00"/><line x1="406.60" y1="2252.60" x2="406.60" y2="2242.00"/><line x1="524.75" y1="2252.60" x2="524.75" y2="2242.00"/><line x1="642.90" y1="2252.60" x2="642.90" y2="2242.00"/><line x1="761.05" y1="2252.60" x2="761.05" y2="2242.00"/><line x1="879.20" y1="2252.60" x2="879.20" y2="2242.00"/><line x1="111.23" y1="2252.60" x2="111.23" y2="2247.20"/><line x1="229.38" y1="2252.60" x2="229.38" y2="2247.20"/><line x1="347.52" y1="2252.60" x2="347.52" y2="2247.20"/><line x1="465.68" y1="2252.60" x2="465.68" y2="2247.20"/><line x1="583.83" y1="2252.60" x2="583.83" y2="2247.20"/><line x1="701.97" y1="2252.60" x2="701.97" y2="2247.20"/><line x1="820.12" y1="2252.60" x2="820.12" y2="2247.20"/><line x1="938.28" y1="2252.60" x2="938.28" y2="2247.20"/></g>
<g font-family="'Liberation Serif', 'Times New Roman', serif" font-weight="bold" font-size="27" fill="#000"><text x="91.60" y="2260.93" text-anchor="end">-1.8</text><text x="91.60" y="2185.18" text-anchor="end">-1.6</text><text x="91.60" y="2109.43" text-anchor="end">-1.4</text><text x="91.60" y="2033.68" text-anchor="end">-1.2</text><text x="91.60" y="1957.93" text-anchor="end">-1.0</text><text x="91.60" y="1882.18" text-anchor="end">-0.8</text><text x="91.60" y="1806.43" text-anchor="end">-0.6</text><text x="91.60" y="1730.68" text-anchor="end">-0.4</text><text x="91.60" y="1654.93" text-anchor="end">-0.2</text><text x="170.30" y="2285.80" text-anchor="middle">0</text><text x="288.45" y="2285.80" text-anchor="middle">5</text><text x="406.60" y="2285.80" text-anchor="middle">10</text><text x="524.75" y="2285.80" text-anchor="middle">15</text><text x="642.90" y="2285.80" text-anchor="middle">20</text><text x="761.05" y="2285.80" text-anchor="middle">25</text><text x="879.20" y="2285.80" text-anchor="middle">30</text></g>
<text x="524.30" y="2335.80" text-anchor="middle" font-family="'Liberation Serif', 'Times New Roman', serif" font-weight="bold" font-size="32">Month</text>
<text transform="translate(37.10 1949.80) rotate(-90)" x="0" y="0" text-anchor="middle" font-family="'Liberation Serif', 'Times New Roman', serif" font-weight="bold" font-size="32">IMF5</text>
<polyline fill="none" stroke="#da4a3b" stroke-width="2.8" stroke-linejoin="round" points="193.93,1817.22 217.56,1830.03 241.19,1842.90 264.82,1855.84 288.45,1868.83 312.08,1881.89 335.71,1895.01 359.34,1908.18 382.97,1921.42 406.60,1934.72 430.23,1948.08 453.86,1961.50 477.49,1974.98 501.12,1988.52 524.75,2002.12 548.38,2015.78 572.01,2029.50 595.64,2043.29 619.27,2057.13 642.90,2071.04 666.53,2085.00 690.16,2099.03 713.79,2113.11 737.42,2127.26 761.05,2141.47 784.68,2155.74 808.31,2170.07 831.94,2184.46"/>
<circle cx="193.93" cy="1817.22" r="6.90" fill="#de4a3a"/><circle cx="217.56" cy="1830.03" r="6.90" fill="#de4a3a"/><circle cx="241.19" cy="1842.90" r="6.90" fill="#de4a3a"/><circle cx="264.82" cy="1855.84" r="6.90" fill="#de4a3a"/><circle cx="288.45" cy="1868.83" r="6.90" fill="#de4a3a"/><circle cx="312.08" cy="1881.89" r="6.90" fill="#de4a3a"/><circle cx="335.71" cy="1895.01" r="6.90" fill="#de4a3a"/><circle cx="359.34" cy="1908.18" r="6.90" fill="#de4a3a"/><circle cx="382.97" cy="1921.42" r="6.90" fill="#de4a3a"/><circle cx="406.60" cy="1934.72" r="6.90" fill="#de4a3a"/><circle cx="430.23" cy="1948.08" r="6.90" fill="#de4a3a"/><circle cx="453.86" cy="1961.50" r="6.90" fill="#de4a3a"/><circle cx="477.49" cy="1974.98" r="6.90" fill="#de4a3a"/><circle cx="501.12" cy="1988.52" r="6.90" fill="#de4a3a"/><circle cx="524.75" cy="2002.12" r="6.90" fill="#de4a3a"/><circle cx="548.38" cy="2015.78" r="6.90" fill="#de4a3a"/><circle cx="572.01" cy="2029.50" r="6.90" fill="#de4a3a"/><circle cx="595.64" cy="2043.29" r="6.90" fill="#de4a3a"/><circle cx="619.27" cy="2057.13" r="6.90" fill="#de4a3a"/><circle cx="642.90" cy="2071.04" r="6.90" fill="#de4a3a"/><circle cx="666.53" cy="2085.00" r="6.90" fill="#de4a3a"/><circle cx="690.16" cy="2099.03" r="6.90" fill="#de4a3a"/><circle cx="713.79" cy="2113.11" r="6.90" fill="#de4a3a"/><circle cx="737.42" cy="2127.26" r="6.90" fill="#de4a3a"/><circle cx="761.05" cy="2141.47" r="6.90" fill="#de4a3a"/><circle cx="784.68" cy="2155.74" r="6.90" fill="#de4a3a"/><circle cx="808.31" cy="2170.07" r="6.90" fill="#de4a3a"/><circle cx="831.94" cy="2184.46" r="6.90" fill="#de4a3a"/>
<polyline fill="none" stroke="#1c92b8" stroke-width="3.2" stroke-linejoin="round" points="193.93,1779.08 217.56,1791.99 241.19,1804.96 264.82,1817.99 288.45,1831.06 312.08,1844.19 335.71,1857.38 359.34,1870.62 382.97,1883.91 406.60,1897.25 430.23,1910.65 453.86,1924.11 477.49,1937.62 501.12,1951.18 524.75,1964.79 548.38,1978.46 572.01,1992.19 595.64,2005.96 619.27,2019.80 642.90,2033.68 666.53,2047.62 690.16,2061.61 713.79,2075.66 737.42,2089.76 761.05,2103.91 784.68,2118.12 808.31,2132.39 831.94,2146.70"/>
<polygon points="193.93,1768.48 196.55,1775.48 204.01,1775.80 198.16,1780.45 200.16,1787.65 193.93,1783.53 187.70,1787.65 189.70,1780.45 183.85,1775.80 191.31,1775.48" fill="#209cc5"/><polygon points="217.56,1781.39 220.18,1788.39 227.64,1788.72 221.79,1793.37 223.79,1800.57 217.56,1796.45 211.33,1800.57 213.33,1793.37 207.48,1788.72 214.94,1788.39" fill="#209cc5"/><polygon points="241.19,1794.36 243.81,1801.36 251.27,1801.69 245.42,1806.34 247.42,1813.54 241.19,1809.42 234.96,1813.54 236.96,1806.34 231.11,1801.69 238.57,1801.36" fill="#209cc5"/><polygon points="264.82,1807.39 267.44,1814.38 274.90,1814.71 269.05,1819.36 271.05,1826.56 264.82,1822.44 258.59,1826.56 260.59,1819.36 254.74,1814.71 262.20,1814.38" fill="#209cc5"/><polygon points="288.45,1820.46 291.07,1827.46 298.53,1827.79 292.68,1832.44 294.68,1839.64 288.45,1835.51 282.22,1839.64 284.22,1832.44 278.37,1827.79 285.83,1827.46" fill="#209cc5"/><polygon points="312.08,1833.59 314.70,1840.59 322.16,1840.92 316.31,1845.57 318.31,1852.77 312.08,1848.65 305.85,1852.77 307.85,1845.57 302.00,1840.92 309.46,1840.59" fill="#209cc5"/><polygon points="335.71,1846.78 338.33,1853.78 345.79,1854.10 339.94,1858.75 341.94,1865.95 335.71,1861.83 329.48,1865.95 331.48,1858.75 325.63,1854.10 333.09,1853.78" fill="#209cc5"/><polygon points="359.34,1860.02 361.96,1867.01 369.42,1867.34 363.57,1871.99 365.57,1879.19 359.34,1875.07 353.11,1879.19 355.11,1871.99 349.26,1867.34 356.72,1867.01" fill="#209cc5"/><polygon points="382.97,1873.31 385.59,1880.31 393.05,1880.63 387.20,1885.28 389.20,1892.48 382.97,1888.36 376.74,1892.48 378.74,1885.28 372.89,1880.63 380.35,1880.31" fill="#209cc5"/><polygon points="406.60,1886.65 409.22,1893.65 416.68,1893.98 410.83,1898.63 412.83,1905.83 406.60,1901.71 400.37,1905.83 402.37,1898.63 396.52,1893.98 403.98,1893.65" fill="#209cc5"/><polygon points="430.23,1900.05 432.85,1907.05 440.31,1907.38 434.46,1912.03 436.46,1919.23 430.23,1915.11 424.00,1919.23 426.00,1912.03 420.15,1907.38 427.61,1907.05" fill="#209cc5"/><polygon points="453.86,1913.51 456.48,1920.51 463.94,1920.83 458.09,1925.48 460.09,1932.68 453.86,1928.56 447.63,1932.68 449.63,1925.48 443.78,1920.83 451.24,1920.51" fill="#209cc5"/><polygon points="477.49,1927.02 480.11,1934.01 487.57,1934.34 481.72,1938.99 483.72,1946.19 477.49,1942.07 471.26,1946.19 473.26,1938.99 467.41,1934.34 474.87,1934.01" fill="#209cc5"/><polygon points="501.12,1940.58 503.74,1947.58 511.20,1947.90 505.35,1952.55 507.35,1959.75 501.12,1955.63 494.89,1959.75 496.89,1952.55 491.04,1947.90 498.50,1947.58" fill="#209cc5"/><polygon points="524.75,1954.19 527.37,1961.19 534.83,1961.52 528.98,1966.17 530.98,1973.37 524.75,1969.25 518.52,1973.37 520.52,1966.17 514.67,1961.52 522.13,1961.19" fill="#209cc5"/><polygon points="548.38,1967.86 551.00,1974.86 558.46,1975.19 552.61,1979.84 554.61,1987.04 548.38,1982.92 542.15,1987.04 544.15,1979.84 538.30,1975.19 545.76,1974.86" fill="#209cc5"/><polygon points="572.01,1981.59 574.63,1988.58 582.09,1988.91 576.24,1993.56 578.24,2000.76 572.01,1996.64 565.78,2000.76 567.78,1993.56 561.93,1988.91 569.39,1988.58" fill="#209cc5"/><polygon points="595.64,1995.36 598.26,2002.36 605.72,2002.69 599.87,2007.34 601.87,2014.54 595.64,2010.42 589.41,2014.54 591.41,2007.34 585.56,2002.69 593.02,2002.36" fill="#209cc5"/><polygon points="619.27,2009.20 621.89,2016.19 629.35,2016.52 623.50,2021.17 625.50,2028.37 619.27,2024.25 613.04,2028.37 615.04,2021.17 609.19,2016.52 616.65,2016.19" fill="#209cc5"/><polygon points="642.90,2023.08 645.52,2030.08 652.98,2030.40 647.13,2035.06 649.13,2042.26 642.90,2038.13 636.67,2042.26 638.67,2035.06 632.82,2030.40 640.28,2030.08" fill="#209cc5"/><polygon points="666.53,2037.02 669.15,2044.02 676.61,2044.34 670.76,2049.00 672.76,2056.19 666.53,2052.07 660.30,2056.19 662.30,2049.00 656.45,2044.34 663.91,2044.02" fill="#209cc5"/><polygon points="690.16,2051.01 692.78,2058.01 700.24,2058.34 694.39,2062.99 696.39,2070.19 690.16,2066.06 683.93,2070.19 685.93,2062.99 680.08,2058.34 687.54,2058.01" fill="#209cc5"/><polygon points="713.79,2065.06 716.41,2072.06 723.87,2072.38 718.02,2077.03 720.02,2084.23 713.79,2080.11 707.56,2084.23 709.56,2077.03 703.71,2072.38 711.17,2072.06" fill="#209cc5"/><polygon points="737.42,2079.16 740.04,2086.16 747.50,2086.48 741.65,2091.14 743.65,2098.34 737.42,2094.21 731.19,2098.34 733.19,2091.14 727.34,2086.48 734.80,2086.16" fill="#209cc5"/><polygon points="761.05,2093.31 763.67,2100.31 771.13,2100.64 765.28,2105.29 767.28,2112.49 761.05,2108.37 754.82,2112.49 756.82,2105.29 750.97,2100.64 758.43,2100.31" fill="#209cc5"/><polygon points="784.68,2107.52 787.30,2114.52 794.76,2114.85 788.91,2119.50 790.91,2126.70 784.68,2122.57 778.45,2126.70 780.45,2119.50 774.60,2114.85 782.06,2114.52" fill="#209cc5"/><polygon points="808.31,2121.79 810.93,2128.78 818.39,2129.11 812.54,2133.76 814.54,2140.96 808.31,2136.84 802.08,2140.96 804.08,2133.76 798.23,2129.11 805.69,2128.78" fill="#209cc5"/><polygon points="831.94,2136.10 834.56,2143.10 842.02,2143.43 836.17,2148.08 838.17,2155.28 831.94,2151.15 825.71,2155.28 827.71,2148.08 821.86,2143.43 829.32,2143.10" fill="#209cc5"/>
<line x1="541.50" y1="1665.10" x2="609.20" y2="1665.10" stroke="#da4a3b" stroke-width="2.8"/><circle cx="575.20" cy="1665.10" r="6.90" fill="#de4a3a"/><line x1="541.50" y1="1701.70" x2="609.20" y2="1701.70" stroke="#1c92b8" stroke-width="3.2"/><polygon points="575.20,1691.10 577.82,1698.10 585.28,1698.42 579.43,1703.08 581.43,1710.28 575.20,1706.15 568.97,1710.28 570.97,1703.08 565.12,1698.42 572.58,1698.10" fill="#209cc5"/><text x="616.80" y="1675.50" font-family="'Liberation Serif', 'Times New Roman', serif" font-size="30.1">Decomposition Value</text><text x="616.80" y="1712.10" font-family="'Liberation Serif', 'Times New Roman', serif" font-size="30.1">Predicted Value</text>
<g stroke="#000" stroke-width="2.3" stroke-linecap="butt"><line x1="1186.90" y1="1645.55" x2="1186.90" y2="2253.75"/><line x1="1185.75" y1="2252.60" x2="1999.75" y2="2252.60"/><line x1="1176.30" y1="2252.70" x2="1186.90" y2="2252.70"/><line x1="1176.30" y1="2101.20" x2="1186.90" y2="2101.20"/><line x1="1176.30" y1="1949.70" x2="1186.90" y2="1949.70"/><line x1="1176.30" y1="1798.20" x2="1186.90" y2="1798.20"/><line x1="1176.30" y1="1646.70" x2="1186.90" y2="1646.70"/><line x1="1181.50" y1="2176.95" x2="1186.90" y2="2176.95"/><line x1="1181.50" y1="2025.45" x2="1186.90" y2="2025.45"/><line x1="1181.50" y1="1873.95" x2="1186.90" y2="1873.95"/><line x1="1181.50" y1="1722.45" x2="1186.90" y2="1722.45"/><line x1="1244.60" y1="2252.60" x2="1244.60" y2="2242.00"/><line x1="1360.60" y1="2252.60" x2="1360.60" y2="2242.00"/><line x1="1476.60" y1="2252.60" x2="1476.60" y2="2242.00"/><line x1="1592.60" y1="2252.60" x2="1592.60" y2="2242.00"/><line x1="1708.60" y1="2252.60" x2="1708.60" y2="2242.00"/><line x1="1824.60" y1="2252.60" x2="1824.60" y2="2242.00"/><line x1="1940.60" y1="2252.60" x2="1940.60" y2="2242.00"/><line x1="1186.60" y1="2252.60" x2="1186.60" y2="2247.20"/><line x1="1302.60" y1="2252.60" x2="1302.60" y2="2247.20"/><line x1="1418.60" y1="2252.60" x2="1418.60" y2="2247.20"/><line x1="1534.60" y1="2252.60" x2="1534.60" y2="2247.20"/><line x1="1650.60" y1="2252.60" x2="1650.60" y2="2247.20"/><line x1="1766.60" y1="2252.60" x2="1766.60" y2="2247.20"/><line x1="1882.60" y1="2252.60" x2="1882.60" y2="2247.20"/><line x1="1998.60" y1="2252.60" x2="1998.60" y2="2247.20"/></g>
<g font-family="'Liberation Serif', 'Times New Roman', serif" font-weight="bold" font-size="27" fill="#000"><text x="1167.80" y="2260.93" text-anchor="end">12.70</text><text x="1167.80" y="2109.43" text-anchor="end">12.75</text><text x="1167.80" y="1957.93" text-anchor="end">12.80</text><text x="1167.80" y="1806.43" text-anchor="end">12.85</text><text x="1167.80" y="1654.93" text-anchor="end">12.90</text><text x="1244.60" y="2285.80" text-anchor="middle">0</text><text x="1360.60" y="2285.80" text-anchor="middle">5</text><text x="1476.60" y="2285.80" text-anchor="middle">10</text><text x="1592.60" y="2285.80" text-anchor="middle">15</text><text x="1708.60" y="2285.80" text-anchor="middle">20</text><text x="1824.60" y="2285.80" text-anchor="middle">25</text><text x="1940.60" y="2285.80" text-anchor="middle">30</text></g>
<text x="1592.40" y="2335.70" text-anchor="middle" font-family="'Liberation Serif', 'Times New Roman', serif" font-weight="bold" font-size="32">Month</text>
<text transform="translate(1095.10 1949.40) rotate(-90)" x="0" y="0" text-anchor="middle" font-family="'Liberation Serif', 'Times New Roman', serif" font-weight="bold" font-size="30">Res</text>
<polyline fill="none" stroke="#da4a3b" stroke-width="2.9" stroke-linejoin="round" points="1267.80,1757.35 1291.00,1766.86 1314.20,1776.29 1337.40,1785.65 1360.60,1794.93 1383.80,1804.13 1407.00,1813.26 1430.20,1822.31 1453.40,1831.29 1476.60,1840.19 1499.80,1849.01 1523.00,1857.76 1546.20,1866.43 1569.40,1875.03 1592.60,1883.55 1615.80,1891.99 1639.00,1900.36 1662.20,1908.66 1685.40,1916.87 1708.60,1925.01 1731.80,1933.08 1755.00,1941.07 1778.20,1948.98 1801.40,1956.82 1824.60,1964.58 1847.80,1972.26 1871.00,1979.87 1894.20,1987.40"/>
<circle cx="1267.80" cy="1757.35" r="7.00" fill="#de4a3a"/><circle cx="1291.00" cy="1766.86" r="7.00" fill="#de4a3a"/><circle cx="1314.20" cy="1776.29" r="7.00" fill="#de4a3a"/><circle cx="1337.40" cy="1785.65" r="7.00" fill="#de4a3a"/><circle cx="1360.60" cy="1794.93" r="7.00" fill="#de4a3a"/><circle cx="1383.80" cy="1804.13" r="7.00" fill="#de4a3a"/><circle cx="1407.00" cy="1813.26" r="7.00" fill="#de4a3a"/><circle cx="1430.20" cy="1822.31" r="7.00" fill="#de4a3a"/><circle cx="1453.40" cy="1831.29" r="7.00" fill="#de4a3a"/><circle cx="1476.60" cy="1840.19" r="7.00" fill="#de4a3a"/><circle cx="1499.80" cy="1849.01" r="7.00" fill="#de4a3a"/><circle cx="1523.00" cy="1857.76" r="7.00" fill="#de4a3a"/><circle cx="1546.20" cy="1866.43" r="7.00" fill="#de4a3a"/><circle cx="1569.40" cy="1875.03" r="7.00" fill="#de4a3a"/><circle cx="1592.60" cy="1883.55" r="7.00" fill="#de4a3a"/><circle cx="1615.80" cy="1891.99" r="7.00" fill="#de4a3a"/><circle cx="1639.00" cy="1900.36" r="7.00" fill="#de4a3a"/><circle cx="1662.20" cy="1908.66" r="7.00" fill="#de4a3a"/><circle cx="1685.40" cy="1916.87" r="7.00" fill="#de4a3a"/><circle cx="1708.60" cy="1925.01" r="7.00" fill="#de4a3a"/><circle cx="1731.80" cy="1933.08" r="7.00" fill="#de4a3a"/><circle cx="1755.00" cy="1941.07" r="7.00" fill="#de4a3a"/><circle cx="1778.20" cy="1948.98" r="7.00" fill="#de4a3a"/><circle cx="1801.40" cy="1956.82" r="7.00" fill="#de4a3a"/><circle cx="1824.60" cy="1964.58" r="7.00" fill="#de4a3a"/><circle cx="1847.80" cy="1972.26" r="7.00" fill="#de4a3a"/><circle cx="1871.00" cy="1979.87" r="7.00" fill="#de4a3a"/><circle cx="1894.20" cy="1987.40" r="7.00" fill="#de4a3a"/>
<polyline fill="none" stroke="#1c92b8" stroke-width="3.2" stroke-linejoin="round" points="1267.80,1878.51 1291.00,1888.01 1314.20,1897.44 1337.40,1906.79 1360.60,1916.07 1383.80,1925.28 1407.00,1934.41 1430.20,1943.46 1453.40,1952.44 1476.60,1961.35 1499.80,1970.18 1523.00,1978.94 1546.20,1987.62 1569.40,1996.22 1592.60,2004.75 1615.80,2013.21 1639.00,2021.59 1662.20,2029.90 1685.40,2038.13 1708.60,2046.29 1731.80,2054.37 1755.00,2062.38 1778.20,2070.31 1801.40,2078.17 1824.60,2085.95 1847.80,2093.66 1871.00,2101.30 1894.20,2108.85"/>
<polygon points="1267.80,1867.91 1270.42,1874.91 1277.88,1875.23 1272.03,1879.88 1274.03,1887.08 1267.80,1882.96 1261.57,1887.08 1263.57,1879.88 1257.72,1875.23 1265.18,1874.91" fill="#209cc5"/><polygon points="1291.00,1877.41 1293.62,1884.41 1301.08,1884.74 1295.23,1889.39 1297.23,1896.59 1291.00,1892.46 1284.77,1896.59 1286.77,1889.39 1280.92,1884.74 1288.38,1884.41" fill="#209cc5"/><polygon points="1314.20,1886.84 1316.82,1893.84 1324.28,1894.16 1318.43,1898.82 1320.43,1906.02 1314.20,1901.89 1307.97,1906.02 1309.97,1898.82 1304.12,1894.16 1311.58,1893.84" fill="#209cc5"/><polygon points="1337.40,1896.19 1340.02,1903.19 1347.48,1903.52 1341.63,1908.17 1343.63,1915.37 1337.40,1911.25 1331.17,1915.37 1333.17,1908.17 1327.32,1903.52 1334.78,1903.19" fill="#209cc5"/><polygon points="1360.60,1905.47 1363.22,1912.47 1370.68,1912.80 1364.83,1917.45 1366.83,1924.65 1360.60,1920.53 1354.37,1924.65 1356.37,1917.45 1350.52,1912.80 1357.98,1912.47" fill="#209cc5"/><polygon points="1383.80,1914.68 1386.42,1921.68 1393.88,1922.00 1388.03,1926.65 1390.03,1933.85 1383.80,1929.73 1377.57,1933.85 1379.57,1926.65 1373.72,1922.00 1381.18,1921.68" fill="#209cc5"/><polygon points="1407.00,1923.81 1409.62,1930.81 1417.08,1931.13 1411.23,1935.78 1413.23,1942.98 1407.00,1938.86 1400.77,1942.98 1402.77,1935.78 1396.92,1931.13 1404.38,1930.81" fill="#209cc5"/><polygon points="1430.20,1932.86 1432.82,1939.86 1440.28,1940.19 1434.43,1944.84 1436.43,1952.04 1430.20,1947.92 1423.97,1952.04 1425.97,1944.84 1420.12,1940.19 1427.58,1939.86" fill="#209cc5"/><polygon points="1453.40,1941.84 1456.02,1948.84 1463.48,1949.17 1457.63,1953.82 1459.63,1961.02 1453.40,1956.90 1447.17,1961.02 1449.17,1953.82 1443.32,1949.17 1450.78,1948.84" fill="#209cc5"/><polygon points="1476.60,1950.75 1479.22,1957.75 1486.68,1958.07 1480.83,1962.72 1482.83,1969.92 1476.60,1965.80 1470.37,1969.92 1472.37,1962.72 1466.52,1958.07 1473.98,1957.75" fill="#209cc5"/><polygon points="1499.80,1959.58 1502.42,1966.58 1509.88,1966.90 1504.03,1971.56 1506.03,1978.76 1499.80,1974.63 1493.57,1978.76 1495.57,1971.56 1489.72,1966.90 1497.18,1966.58" fill="#209cc5"/><polygon points="1523.00,1968.34 1525.62,1975.33 1533.08,1975.66 1527.23,1980.31 1529.23,1987.51 1523.00,1983.39 1516.77,1987.51 1518.77,1980.31 1512.92,1975.66 1520.38,1975.33" fill="#209cc5"/><polygon points="1546.20,1977.02 1548.82,1984.01 1556.28,1984.34 1550.43,1988.99 1552.43,1996.19 1546.20,1992.07 1539.97,1996.19 1541.97,1988.99 1536.12,1984.34 1543.58,1984.01" fill="#209cc5"/><polygon points="1569.40,1985.62 1572.02,1992.62 1579.48,1992.95 1573.63,1997.60 1575.63,2004.80 1569.40,2000.67 1563.17,2004.80 1565.17,1997.60 1559.32,1992.95 1566.78,1992.62" fill="#209cc5"/><polygon points="1592.60,1994.15 1595.22,2001.15 1602.68,2001.48 1596.83,2006.13 1598.83,2013.33 1592.60,2009.21 1586.37,2013.33 1588.37,2006.13 1582.52,2001.48 1589.98,2001.15" fill="#209cc5"/><polygon points="1615.80,2002.61 1618.42,2009.61 1625.88,2009.93 1620.03,2014.59 1622.03,2021.79 1615.80,2017.66 1609.57,2021.79 1611.57,2014.59 1605.72,2009.93 1613.18,2009.61" fill="#209cc5"/><polygon points="1639.00,2010.99 1641.62,2017.99 1649.08,2018.32 1643.23,2022.97 1645.23,2030.17 1639.00,2026.04 1632.77,2030.17 1634.77,2022.97 1628.92,2018.32 1636.38,2017.99" fill="#209cc5"/><polygon points="1662.20,2019.30 1664.82,2026.30 1672.28,2026.62 1666.43,2031.27 1668.43,2038.47 1662.20,2034.35 1655.97,2038.47 1657.97,2031.27 1652.12,2026.62 1659.58,2026.30" fill="#209cc5"/><polygon points="1685.40,2027.53 1688.02,2034.53 1695.48,2034.86 1689.63,2039.51 1691.63,2046.71 1685.40,2042.58 1679.17,2046.71 1681.17,2039.51 1675.32,2034.86 1682.78,2034.53" fill="#209cc5"/><polygon points="1708.60,2035.69 1711.22,2042.69 1718.68,2043.01 1712.83,2047.66 1714.83,2054.86 1708.60,2050.74 1702.37,2054.86 1704.37,2047.66 1698.52,2043.01 1705.98,2042.69" fill="#209cc5"/><polygon points="1731.80,2043.77 1734.42,2050.77 1741.88,2051.10 1736.03,2055.75 1738.03,2062.95 1731.80,2058.82 1725.57,2062.95 1727.57,2055.75 1721.72,2051.10 1729.18,2050.77" fill="#209cc5"/><polygon points="1755.00,2051.78 1757.62,2058.78 1765.08,2059.10 1759.23,2063.75 1761.23,2070.95 1755.00,2066.83 1748.77,2070.95 1750.77,2063.75 1744.92,2059.10 1752.38,2058.78" fill="#209cc5"/><polygon points="1778.20,2059.71 1780.82,2066.71 1788.28,2067.04 1782.43,2071.69 1784.43,2078.89 1778.20,2074.76 1771.97,2078.89 1773.97,2071.69 1768.12,2067.04 1775.58,2066.71" fill="#209cc5"/><polygon points="1801.40,2067.57 1804.02,2074.57 1811.48,2074.89 1805.63,2079.55 1807.63,2086.75 1801.40,2082.62 1795.17,2086.75 1797.17,2079.55 1791.32,2074.89 1798.78,2074.57" fill="#209cc5"/><polygon points="1824.60,2075.35 1827.22,2082.35 1834.68,2082.68 1828.83,2087.33 1830.83,2094.53 1824.60,2090.41 1818.37,2094.53 1820.37,2087.33 1814.52,2082.68 1821.98,2082.35" fill="#209cc5"/><polygon points="1847.80,2083.06 1850.42,2090.06 1857.88,2090.39 1852.03,2095.04 1854.03,2102.24 1847.80,2098.11 1841.57,2102.24 1843.57,2095.04 1837.72,2090.39 1845.18,2090.06" fill="#209cc5"/><polygon points="1871.00,2090.70 1873.62,2097.69 1881.08,2098.02 1875.23,2102.67 1877.23,2109.87 1871.00,2105.75 1864.77,2109.87 1866.77,2102.67 1860.92,2098.02 1868.38,2097.69" fill="#209cc5"/><polygon points="1894.20,2098.25 1896.82,2105.25 1904.28,2105.58 1898.43,2110.23 1900.43,2117.43 1894.20,2113.31 1887.97,2117.43 1889.97,2110.23 1884.12,2105.58 1891.58,2105.25" fill="#209cc5"/>
<line x1="1578.30" y1="1685.10" x2="1646.00" y2="1685.10" stroke="#da4a3b" stroke-width="2.9"/><circle cx="1612.00" cy="1685.10" r="7.00" fill="#de4a3a"/><line x1="1578.30" y1="1721.70" x2="1646.00" y2="1721.70" stroke="#1c92b8" stroke-width="3.2"/><polygon points="1612.00,1711.10 1614.62,1718.10 1622.08,1718.42 1616.23,1723.08 1618.23,1730.28 1612.00,1726.15 1605.77,1730.28 1607.77,1723.08 1601.92,1718.42 1609.38,1718.10" fill="#209cc5"/><text x="1653.60" y="1695.50" font-family="'Liberation Serif', 'Times New Roman', serif" font-size="30.1">Decomposition Value</text><text x="1653.60" y="1732.10" font-family="'Liberation Serif', 'Times New Roman', serif" font-size="30.1">Predicted Value</text>
</svg></body></html>
